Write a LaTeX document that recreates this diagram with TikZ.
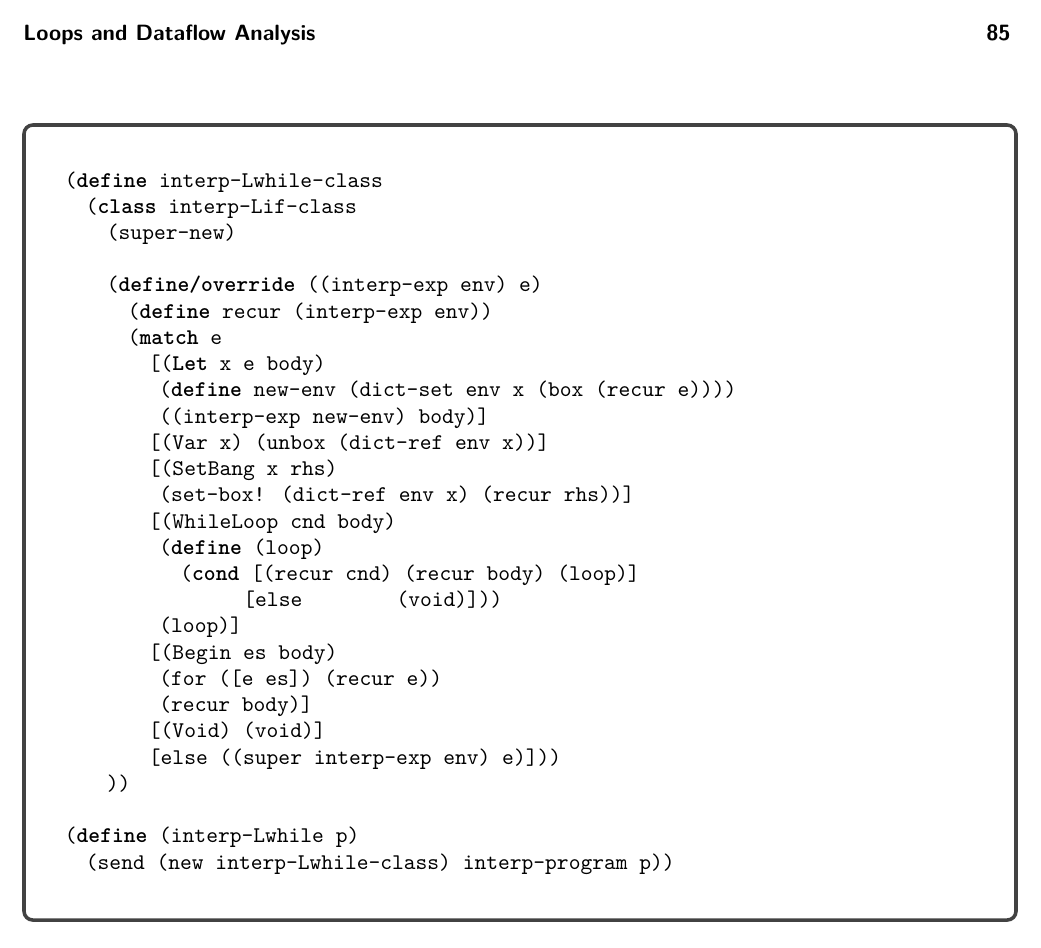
\documentclass[tikz,border=0pt]{standalone}
\usepackage{fontspec}
\usetikzlibrary{positioning}
\definecolor{boxgray}{RGB}{66, 66, 66}
\newcommand{\kw}[1]{\textbf{#1}}
\newcommand{\gapchars}[1]{\hspace*{#1\fontcharwd\font`x}}

\begin{document}
\begin{tikzpicture}[x=0.4525pt, y=-0.4525pt,
  code/.style={anchor=base west, inner sep=0pt, font=\ttfamily\fontsize{10.15pt}{12pt}\selectfont},
  head/.style={anchor=base west, inner sep=0pt, font=\sffamily\bfseries}]
  \useasboundingbox (0,0) rectangle (1041,947);
  % page header
  \node[head] (title) at (23, 40) {Loops and Dataflow Analysis};
  \node[head, anchor=base east] (page) at (1011, 40) {85};
  % frame
  \draw[line width=1.6pt, boxgray, rounded corners=4pt] (24,125) rectangle (1016,920);
  % listing
  \node[code] (l1) at (64.5, 187.0) {(\kw{define} interp-Lwhile-class};
  \node[code] (l2) at (85.5, 213.2) {(\kw{class} interp-Lif-class};
  \node[code] (l3) at (106.5, 239.5) {(super-new)};
  \node[code] (l5) at (106.5, 291.9) {(\kw{define/override} ((interp-exp env) e)};
  \node[code] (l6) at (127.5, 318.2) {(\kw{define} recur (interp-exp env))};
  \node[code] (l7) at (127.5, 344.4) {(\kw{match} e};
  \node[code] (l8) at (148.5, 370.6) {[(\kw{Let} x e body)};
  \node[code] (l9) at (159, 396.8) {(\kw{define} new-env (dict-set env x (box (recur e))))};
  \node[code] (l10) at (159, 423.1) {((interp-exp new-env) body)]};
  \node[code] (l11) at (148.5, 449.3) {[(Var x) (unbox (dict-ref env x))]};
  \node[code] (l12) at (148.5, 475.5) {[(SetBang x rhs)};
  \node[code] (l13) at (159, 501.8) {(set-box! (dict-ref env x) (recur rhs))]};
  \node[code] (l14) at (148.5, 528.0) {[(WhileLoop cnd body)};
  \node[code] (l15) at (159, 554.2) {(\kw{define} (loop)};
  \node[code] (l16) at (180, 580.5) {(\kw{cond} [(recur cnd) (recur body) (loop)]};
  \node[code] (l17) at (243, 606.7) {[else\gapchars{8}(void)]))};
  \node[code] (l18) at (159, 632.9) {(loop)]};
  \node[code] (l19) at (148.5, 659.1) {[(Begin es body)};
  \node[code] (l20) at (159, 685.4) {(for ([e es]) (recur e))};
  \node[code] (l21) at (159, 711.6) {(recur body)]};
  \node[code] (l22) at (148.5, 737.8) {[(Void) (void)]};
  \node[code] (l23) at (148.5, 764.1) {[else ((super interp-exp env) e)]))};
  \node[code] (l24) at (106.5, 790.3) {))};
  \node[code] (l26) at (64.5, 842.8) {(\kw{define} (interp-Lwhile p)};
  \node[code] (l27) at (85.5, 869.0) {(send (new interp-Lwhile-class) interp-program p))};
\end{tikzpicture}
\end{document}
